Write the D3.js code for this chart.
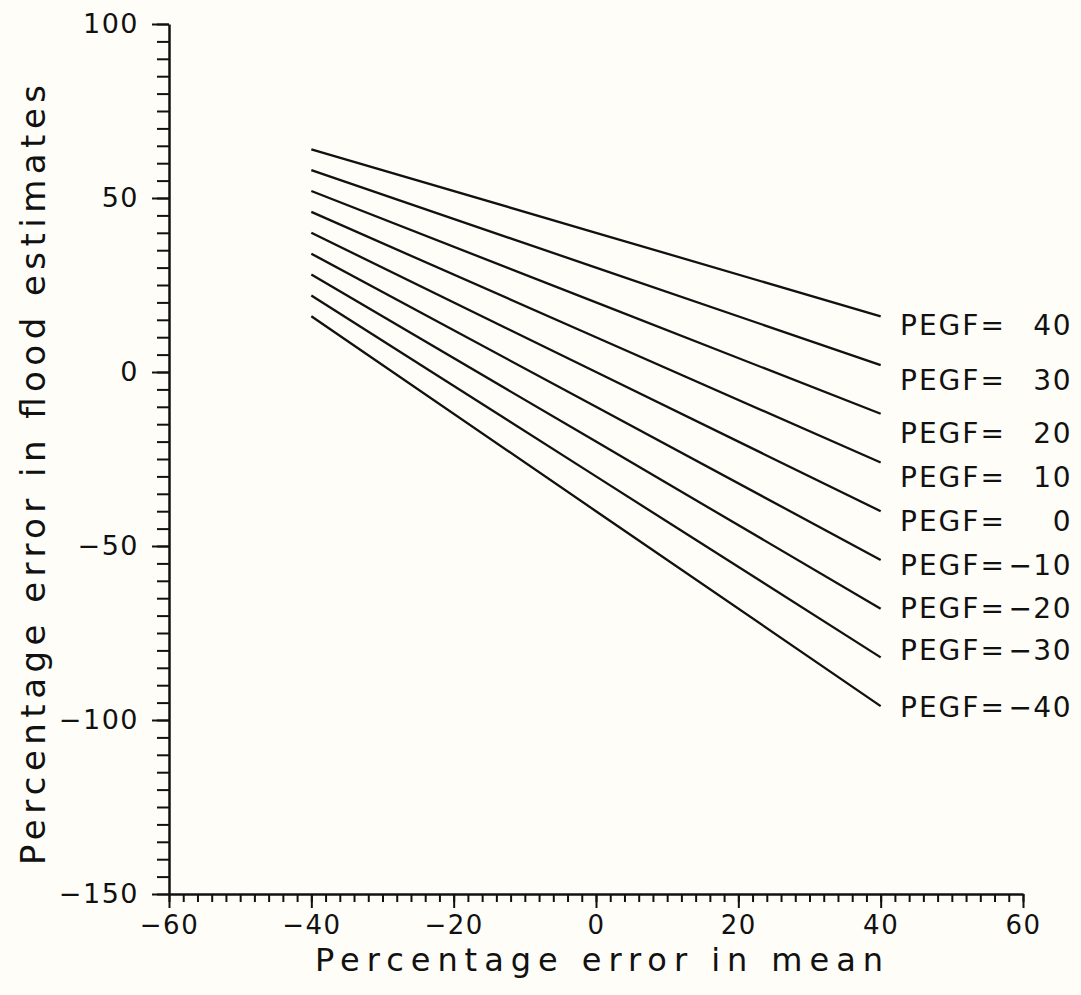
<!DOCTYPE html>
<html><head><meta charset="utf-8">
<script src="https://cdn.jsdelivr.net/npm/d3@7"></script>
<style>
html,body{margin:0;padding:0;background:#fefdf8;}
svg{display:block;font-family:"DejaVu Sans",sans-serif;}
</style></head><body>
<svg id="c" width="1081" height="995"></svg>
<script>
// ---- data ----
const pegf = [40, 30, 20, 10, 0, -10, -20, -30, -40];
const xPoints = [-40, 0, 40];
const yAtMinus40 = [64, 58, 52, 46, 40, 34, 28, 22, 16];
const yAt0 = [40, 30, 20, 10, 0, -10, -20, -30, -40];
const yAtPlus40 = [16, 2, -12, -26, -40, -54, -68, -82, -96];
const labelAt = [13.5, -2.3, -17.5, -30.2, -42.8, -55.5, -67.8, -79.9, -96.3];
const xMajorTicks = [-60, -40, -20, 0, 20, 40, 60];
const yMajorTicks = [-150, -100, -50, 0, 50, 100];
const xMinorTicks = d3.range(-60, 61, 2);
const yMinorTicks = d3.range(-150, 101, 5);
const xTitle = "Percentage error in mean";
const yTitle = "Percentage error in flood estimates";
const labelPrefix = "PEGF=";

// ---- drawing ----
const svg = d3.select("#c");
const x = d3.scaleLinear().domain([-60, 60]).range([169, 1023]);
const y = d3.scaleLinear().domain([-150, 100]).range([894, 24]);
const fmt = d3.format("d");

// minor ticks
svg.append("g").attr("transform", `translate(0,${y(-150)})`)
  .call(d3.axisBottom(x).tickValues(xMinorTicks).tickSize(8).tickSizeOuter(0).tickFormat(""))
  .call(g => g.select(".domain").remove());
svg.append("g").attr("transform", `translate(${x(-60)},0)`)
  .call(d3.axisLeft(y).tickValues(yMinorTicks).tickSize(12).tickSizeOuter(0).tickFormat(""))
  .call(g => g.select(".domain").remove());

// major axes
const xa = svg.append("g").attr("class", "xa").attr("transform", `translate(0,${y(-150)})`)
  .call(d3.axisBottom(x).tickValues(xMajorTicks).tickSize(14).tickSizeOuter(0).tickPadding(8).tickFormat(fmt));
const ya = svg.append("g").attr("class", "ya").attr("transform", `translate(${x(-60)},0)`)
  .call(d3.axisLeft(y).tickValues(yMajorTicks).tickSize(17).tickSizeOuter(0).tickPadding(13).tickFormat(fmt));

svg.selectAll(".tick line").attr("stroke", "#111").attr("stroke-width", 2);
svg.selectAll(".domain").attr("stroke", "#111").attr("stroke-width", 2.5);
svg.selectAll(".tick text").attr("fill", "#111")
  .attr("font-family", "DejaVu Sans, sans-serif").style("letter-spacing", "1.5px");
xa.selectAll(".tick text").attr("font-size", 26);
ya.selectAll(".tick text").attr("font-size", 27);

// lines
const series = pegf.map((p, i) => ({
  p, vals: [yAtMinus40[i], yAt0[i], yAtPlus40[i]], lab: labelAt[i]
}));
const line = d3.line().x((d, j) => x(xPoints[j])).y(d => y(d));
svg.append("g").selectAll("path").data(series).join("path")
  .attr("d", d => line(d.vals))
  .attr("fill", "none").attr("stroke", "#111").attr("stroke-width", 2.3);

// labels
const lg = svg.append("g").attr("font-size", 28).attr("fill", "#111");
lg.selectAll("text.pre").data(series).join("text").attr("class", "pre")
  .attr("x", 900).attr("y", d => y(d.lab)).attr("dy", "0.36em")
  .style("letter-spacing", "2px")
  .text(labelPrefix);
lg.selectAll("text.val").data(series).join("text").attr("class", "val")
  .attr("x", 1072).attr("y", d => y(d.lab)).attr("dy", "0.36em")
  .attr("text-anchor", "end").style("letter-spacing", "1.5px")
  .text(d => fmt(d.p));

// titles
svg.append("text").attr("x", 599).attr("y", 971).attr("text-anchor", "middle")
  .attr("font-size", 32).attr("fill", "#111")
  .attr("textLength", 568).attr("lengthAdjust", "spacing")
  .text(xTitle);
svg.append("text").attr("transform", "translate(45,475) rotate(-90)")
  .attr("text-anchor", "middle").attr("font-size", 34).attr("fill", "#111")
  .attr("textLength", 780).attr("lengthAdjust", "spacing")
  .text(yTitle);
</script>
</body></html>
